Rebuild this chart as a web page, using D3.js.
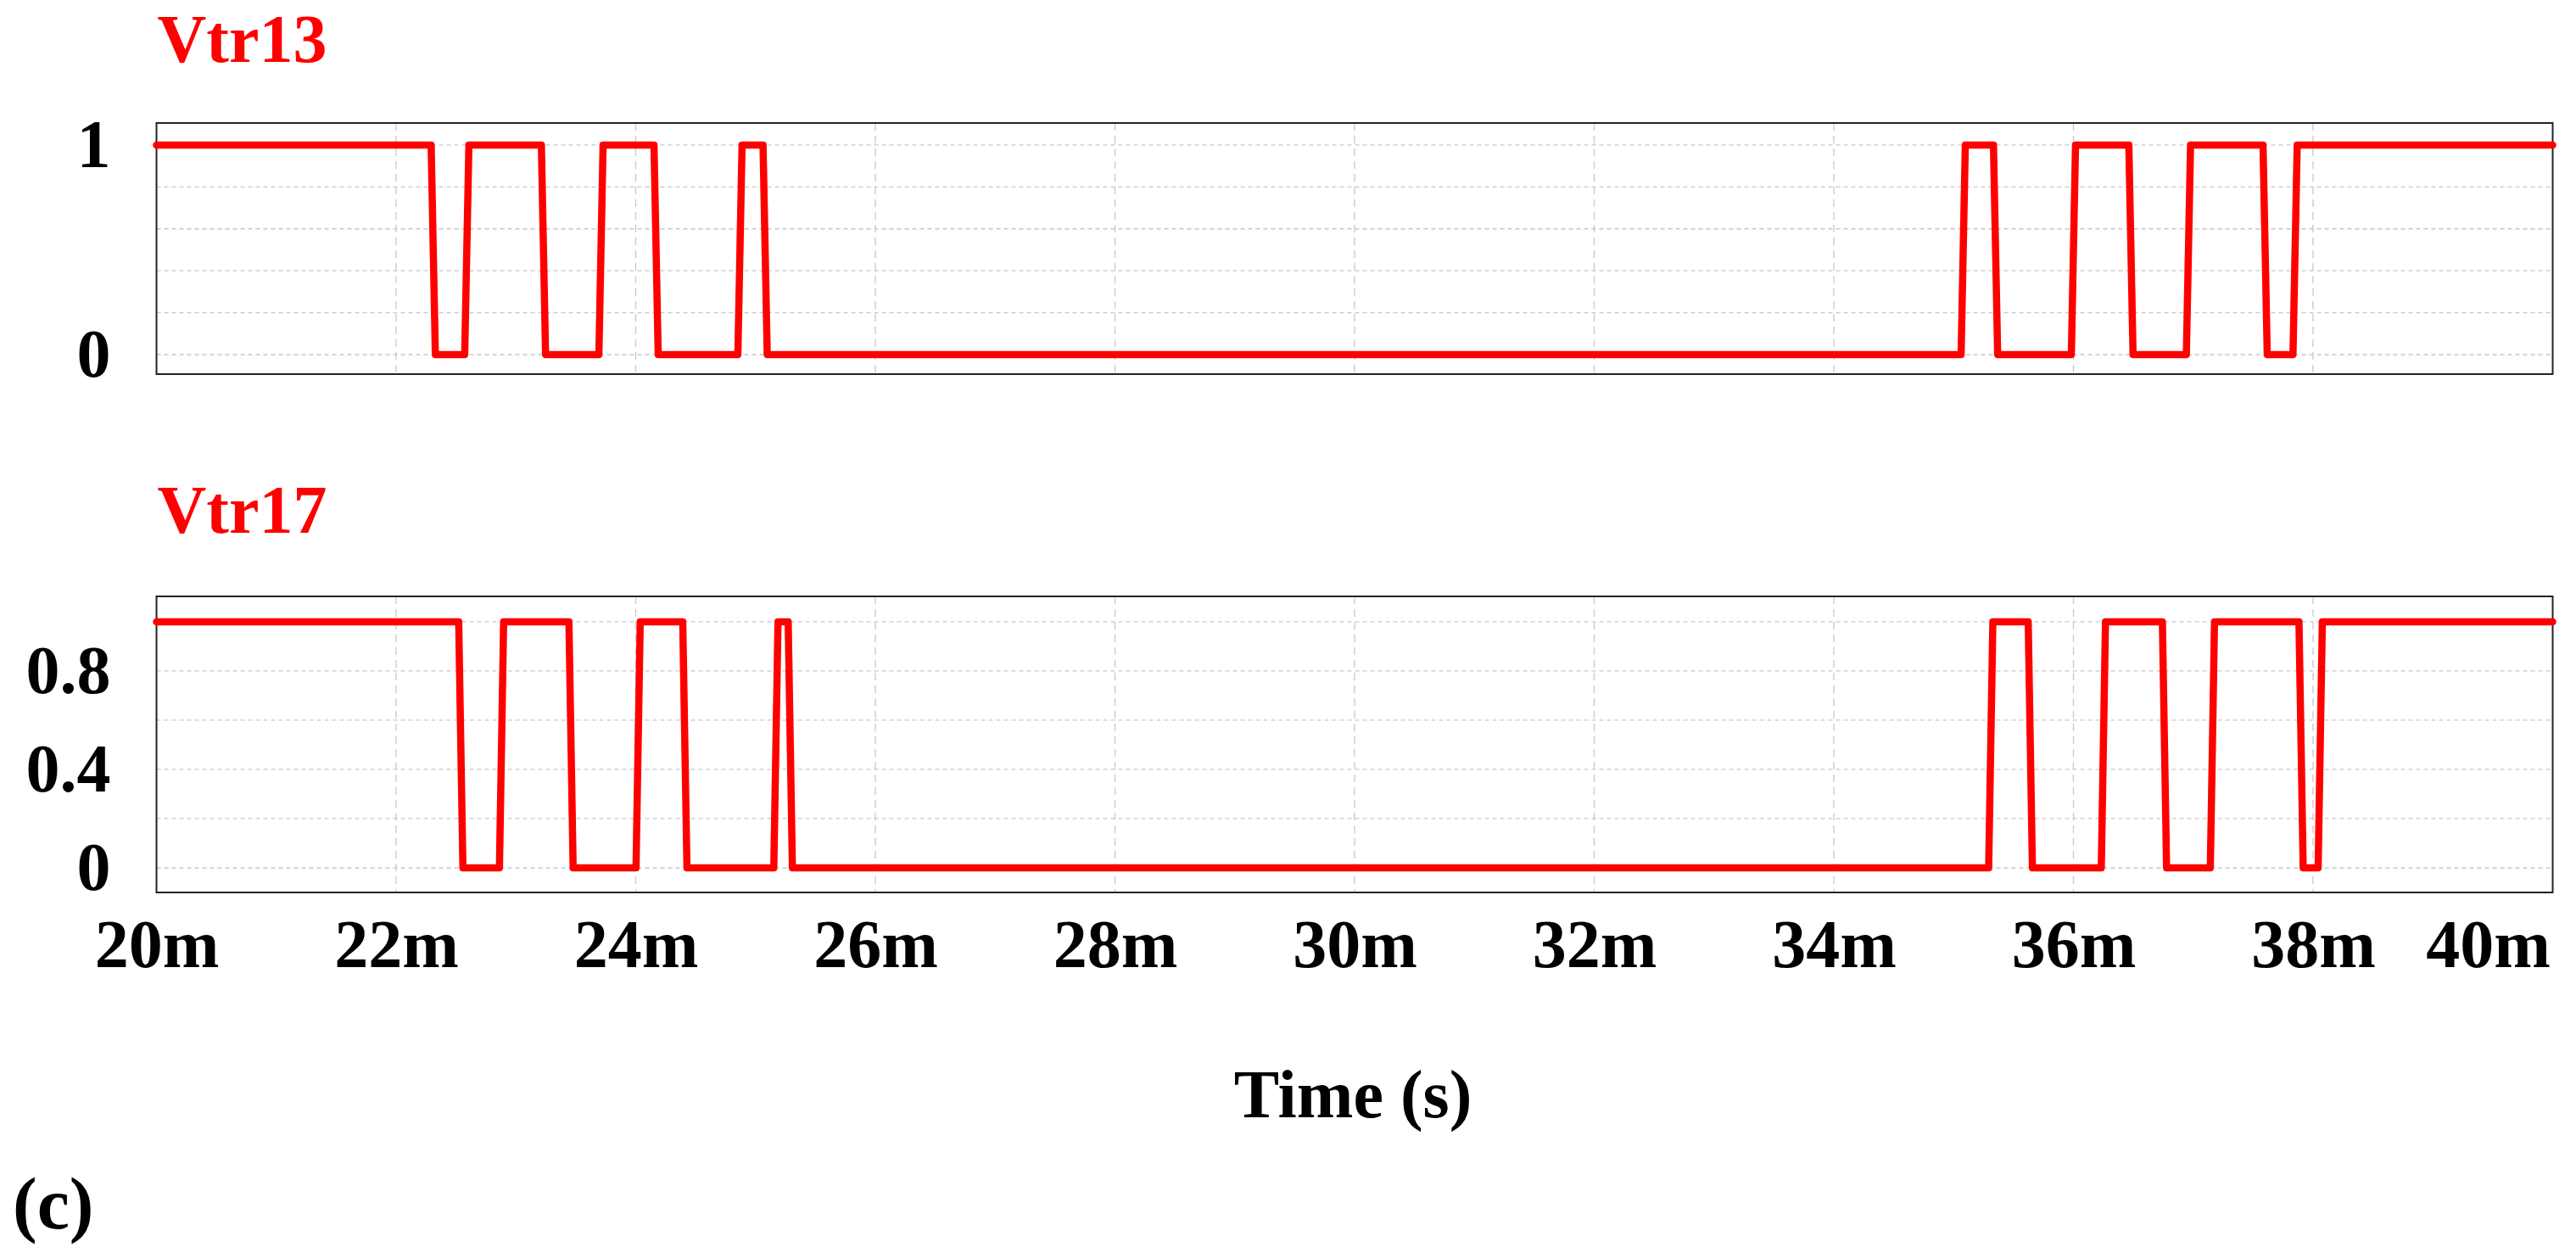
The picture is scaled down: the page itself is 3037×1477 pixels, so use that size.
<html>
    <head>
        <meta charset="utf-8" />
        <script src="https://d3js.org/d3.v7.min.js"></script>
        <title>Vtr13 / Vtr17</title>
        <style>
            body { margin: 0; background: white; }
            text { font-family: "Liberation Serif", "Times New Roman", serif; font-weight: bold; }
            .grid line { stroke: #c8c8c8; stroke-width: 1.3; }
        </style>
    </head>
    <body>
        <div id="chart"></div>
    </body>
    <script>
        // time axis, in ms
        var timeDomain = [20, 40];
        var timeTicks = [20, 22, 24, 26, 28, 30, 32, 34, 36, 38, 40];

        // switching instants (ms), both signals start high
        var vtr13Start = 1;
        var vtr13Edges = [22.31, 22.59, 23.23, 23.71, 24.17, 24.87, 25.08,
                          35.08, 35.35, 36.00, 36.48, 36.96, 37.60, 37.85];
        var vtr17Start = 1;
        var vtr17Edges = [22.54, 22.88, 23.46, 24.02, 24.41, 25.17, 25.29,
                          35.31, 35.64, 36.25, 36.76, 37.16, 37.90, 38.06];

        var gridValues = [0, 0.2, 0.4, 0.6, 0.8, 1];
        var vtr13Ticks = [0, 1];
        var vtr17Ticks = [0, 0.4, 0.8];

        var width = 3037, height = 1477;
        var left = 184.5, right = 3009.5;
        var ramp = 0.035; // edge slope, ms

        var svg = d3.select("#chart").append("svg")
            .attr("width", width)
            .attr("height", height);

        var x = d3.scaleLinear().domain(timeDomain).range([left, right]);

        function wave(start, edges) {
            var pts = [[timeDomain[0], start]];
            var v = start;
            edges.forEach(function (t) {
                pts.push([t - ramp / 2, v]);
                v = 1 - v;
                pts.push([t + ramp / 2, v]);
            });
            pts.push([timeDomain[1], v]);
            return pts;
        }

        function panel(name, start, edges, ticks, top, bottom, domain, titleY) {
            var y = d3.scaleLinear().domain(domain).range([bottom, top]);
            var g = svg.append("g");

            g.append("text")
                .attr("x", left + 1)
                .attr("y", titleY)
                .attr("fill", "#ff0000")
                .style("font-size", "80px")
                .text(name);

            var grid = g.append("g").attr("class", "grid");
            grid.selectAll(".h")
                .data(gridValues)
                .enter().append("line")
                .attr("x1", left).attr("x2", right)
                .attr("y1", d => y(d)).attr("y2", d => y(d))
                .attr("stroke-dasharray", "5,4");
            grid.selectAll(".v")
                .data(timeTicks.slice(1, -1))
                .enter().append("line")
                .attr("x1", d => x(d)).attr("x2", d => x(d))
                .attr("y1", top).attr("y2", bottom)
                .attr("stroke-dasharray", "9,6");

            g.append("g")
                .attr("transform", "translate(" + left + ",0)")
                .call(d3.axisLeft(y).tickValues(ticks).tickSize(0).tickPadding(54)
                    .tickFormat(d3.format("")))
                .call(a => a.select(".domain").remove())
                .selectAll("text")
                .style("font-size", "80px")
                .attr("fill", "#000");

            g.append("rect")
                .attr("x", left).attr("y", top)
                .attr("width", right - left).attr("height", bottom - top)
                .attr("fill", "none")
                .attr("stroke", "#222")
                .attr("stroke-width", 2);

            var line = d3.line().x(d => x(d[0])).y(d => y(d[1]));
            g.append("path")
                .datum(wave(start, edges))
                .attr("d", line)
                .attr("fill", "none")
                .attr("stroke", "#ff0000")
                .attr("stroke-width", 8.5)
                .attr("stroke-linejoin", "round")
                .attr("stroke-linecap", "round");
        }

        panel("Vtr13", vtr13Start, vtr13Edges, vtr13Ticks, 145, 441, [-0.093, 1.105], 73);
        panel("Vtr17", vtr17Start, vtr17Edges, vtr17Ticks, 703, 1052, [-0.1, 1.103], 628);

        // time labels
        var xa = svg.append("g")
            .attr("transform", "translate(0,1052)")
            .call(d3.axisBottom(x).tickValues(timeTicks).tickSize(0).tickPadding(30)
                .tickFormat(d => d + "m"));
        xa.select(".domain").remove();
        xa.selectAll("text")
            .style("font-size", "80px")
            .attr("fill", "#000")
            .attr("dy", null)
            .attr("y", 88);
        xa.selectAll(".tick").filter(d => d === timeDomain[1])
            .select("text")
            .attr("text-anchor", "end")
            .attr("x", -3);

        svg.append("text")
            .attr("x", 1595)
            .attr("y", 1317)
            .attr("text-anchor", "middle")
            .style("font-size", "80px")
            .text("Time (s)");

        svg.append("text")
            .attr("x", 15)
            .attr("y", 1448)
            .style("font-size", "86px")
            .text("(c)");
    </script>
</html>
